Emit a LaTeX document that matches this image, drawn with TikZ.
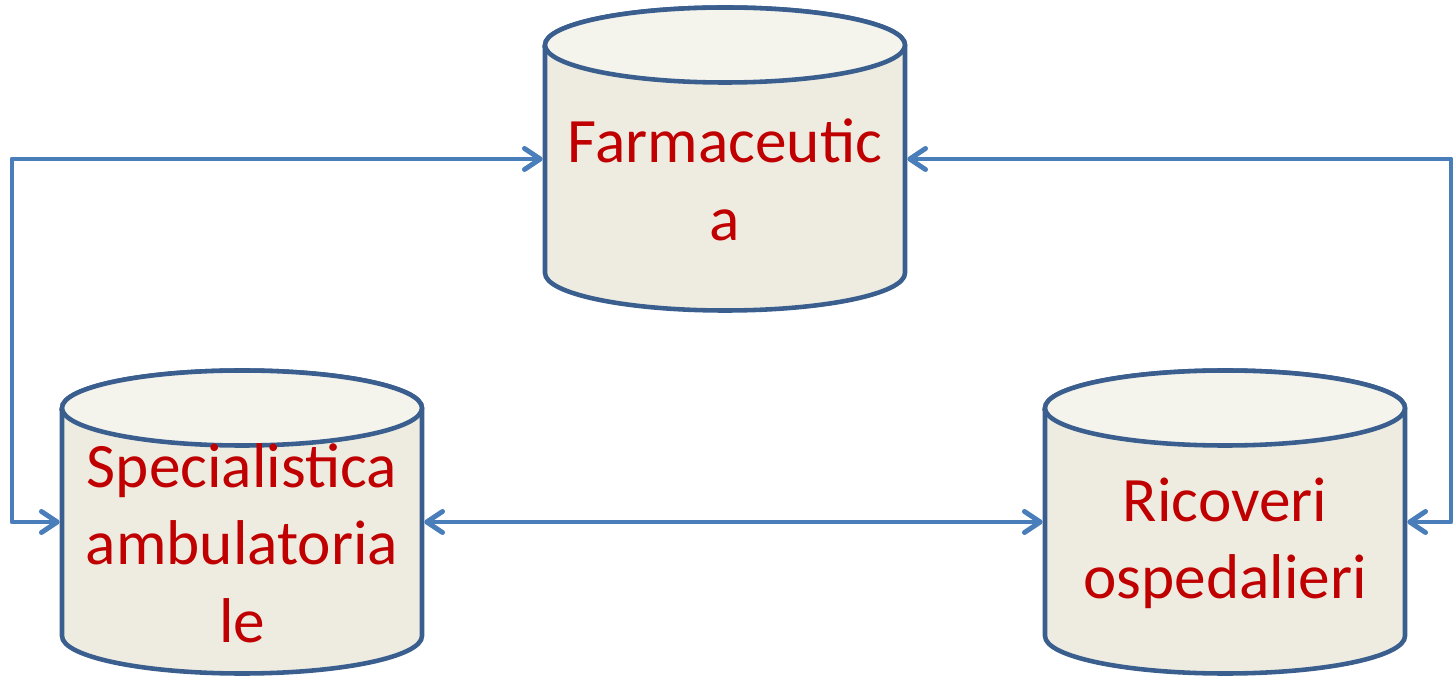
\documentclass[tikz,border=0pt]{standalone}
\usepackage{fontspec}
\setmainfont{Carlito}
\usetikzlibrary{arrows.meta,backgrounds}
\definecolor{dbfill}{HTML}{EEECE1}
\definecolor{dbcap}{HTML}{F4F3EC}
\definecolor{dbline}{HTML}{3A5F8F}
\definecolor{linkblue}{HTML}{4A7EBB}
\definecolor{labelred}{HTML}{C00000}
\tikzset{
	db/.style={minimum width=7.2cm, minimum height=6.06cm, inner sep=0pt, outer sep=0pt},
	dblabel/.style={align=center, text=labelred, font=\fontsize{36}{44}\selectfont, yshift=-0.42cm},
	dbbody/.style={fill=dbfill, draw=dbline, line width=2.6pt},
	link/.style={draw=linkblue, line width=2.8pt, line join=round, shorten <=1.3pt, shorten >=1.3pt,
		{Straight Barb[length=9pt,width=12pt,round]}-{Straight Barb[length=9pt,width=12pt,round]}}
}
\begin{document}
\begin{tikzpicture}
		\useasboundingbox (0,0) rectangle (29.06,13.56);
		\node[db,label={[dblabel]center:{Farmaceutic\\a}}] (farma) at (14.5,10.38) {};
		\node[db,label={[dblabel]center:{Specialistica\\ambulatoria\\le}}] (spec) at (4.84,3.12) {};
		\node[db,label={[dblabel]center:{Ricoveri\\ospedalieri}}] (ricov) at (24.5,3.12) {};
		% cylinders behind the labels
		\begin{scope}[on background layer]
			\foreach \db in {farma,spec,ricov}{
				\filldraw[dbbody] ([yshift=-0.75cm]\db.north west) -- ([yshift=0.75cm]\db.south west)
					arc[start angle=180,end angle=360,x radius=3.6cm,y radius=0.75cm]
					-- ([yshift=-0.75cm]\db.north east)
					arc[start angle=0,end angle=180,x radius=3.6cm,y radius=0.75cm] -- cycle;
				\filldraw[dbbody,fill=dbcap] ([yshift=-0.75cm]\db.north) ellipse[x radius=3.6cm,y radius=0.75cm];
			}
		\end{scope}
		\coordinate (lbend) at (0.24,10.38);
		\coordinate (rbend) at (29.02,10.38);
		\draw[link] (spec.west) -| (lbend) -- (farma.west);
		\draw[link] (ricov.east) -| (rbend) -- (farma.east);
		\draw[link] (spec.east) -- (ricov.west);
	\end{tikzpicture}
\end{document}
